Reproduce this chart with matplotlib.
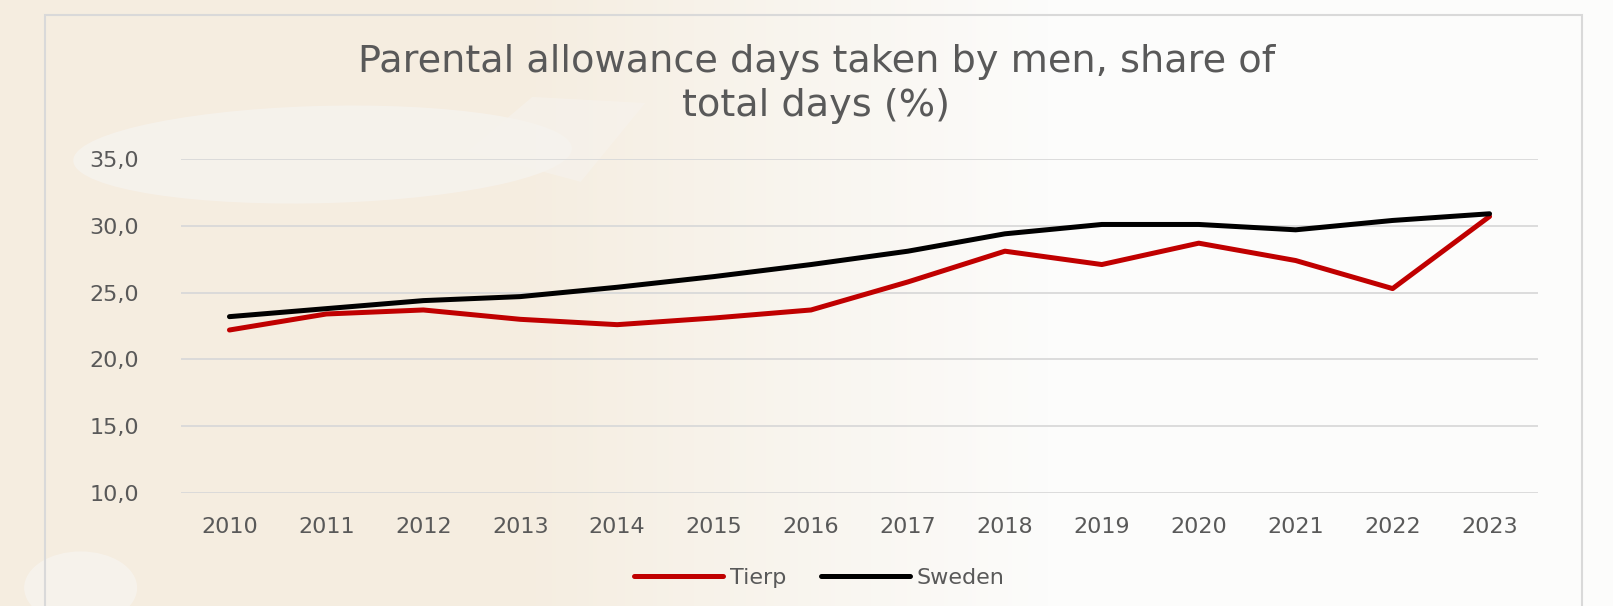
import numpy as np
import matplotlib
matplotlib.use('Agg')
import matplotlib.pyplot as plt
from matplotlib.patches import Rectangle, Ellipse, Polygon

years = ['2010', '2011', '2012', '2013', '2014', '2015', '2016',
         '2017', '2018', '2019', '2020', '2021', '2022', '2023']
tierp = [22.2, 23.4, 23.7, 23.0, 22.6, 23.1, 23.7,
         25.8, 28.1, 27.1, 28.7, 27.4, 25.3, 30.7]
sweden = [23.2, 23.8, 24.4, 24.7, 25.4, 26.2, 27.1,
          28.1, 29.4, 30.1, 30.1, 29.7, 30.4, 30.9]
yticks = [10, 15, 20, 25, 30, 35]

TXT = '#595959'
W, H = 1613, 606

fig = plt.figure(figsize=(W / 100, H / 100), dpi=100)

# background: beige on the left fading to white on the right
bg = fig.add_axes([0, 0, 1, 1], zorder=-10)
bg.set_xlim(0, 1)
bg.set_ylim(0, 1)
bg.axis('off')
xs = np.linspace(0, 1, 400)
t = np.clip((xs - 0.32) / 0.33, 0, 1)
beige = np.array([245, 237, 224]) / 255
white = np.array([252, 252, 251]) / 255
row = beige[None, :] * (1 - t[:, None]) + white[None, :] * t[:, None]
grad = np.repeat(row[None, :, :], 2, axis=0)
bg.imshow(grad, extent=[0, 1, 0, 1], aspect='auto', zorder=0)
bg.add_patch(Ellipse((0.20, 0.745), 0.31, 0.16, angle=5, color='#f6f3ee',
                     alpha=0.85, lw=0, zorder=1))
bg.add_patch(Polygon([(0.29, 0.75), (0.33, 0.84), (0.40, 0.83), (0.36, 0.70)],
                     closed=True, color='#f6f3ee', alpha=0.6, lw=0, zorder=1))
bg.add_patch(Ellipse((0.05, 0.03), 0.07, 0.12, color='#f7f4ef',
                     alpha=0.8, lw=0, zorder=1))
# chart border
bg.add_patch(Rectangle((45 / W, -0.05), (1582 - 45) / W, 1 - 15 / H + 0.05,
                       fill=False, ec='#d9d9d9', lw=1.5, zorder=2))

ax = fig.add_axes([181 / W, 1 - 493 / H, (1538 - 181) / W, (493 - 159) / H])
ax.patch.set_alpha(0)
x = np.arange(len(years))
ax.plot(x, tierp, color='#c00000', lw=3.6, solid_capstyle='round',
        solid_joinstyle='round', label='Tierp', zorder=3)
ax.plot(x, sweden, color='black', lw=3.6, solid_capstyle='round',
        solid_joinstyle='round', label='Sweden', zorder=4)

ax.set_xlim(-0.5, len(years) - 0.5)
ax.set_ylim(10, 35)
ax.set_yticks(yticks)
ax.set_yticklabels(['{:.1f}'.format(v).replace('.', ',') for v in yticks])
ax.set_xticks(x)
ax.set_xticklabels(years)
ax.grid(axis='y', color='#d9d9d9', lw=1.3)
ax.set_axisbelow(True)
for s in ax.spines.values():
    s.set_visible(False)
ax.tick_params(length=0, colors=TXT, labelsize=16)
ax.tick_params(axis='y', pad=30)
ax.tick_params(axis='x', pad=17)

fig.text(0.506, 0.862, 'Parental allowance days taken by men, share of\ntotal days (%)',
         ha='center', va='center', fontsize=27.5, color=TXT, linespacing=1.28)

ax.legend(loc='center', bbox_to_anchor=(0.508, 0.046), bbox_transform=fig.transFigure,
          ncol=2, frameon=False, fontsize=16, labelcolor=TXT,
          handlelength=4.0, handletextpad=0.3, columnspacing=1.6)

fig.savefig('out.png', dpi=100)
